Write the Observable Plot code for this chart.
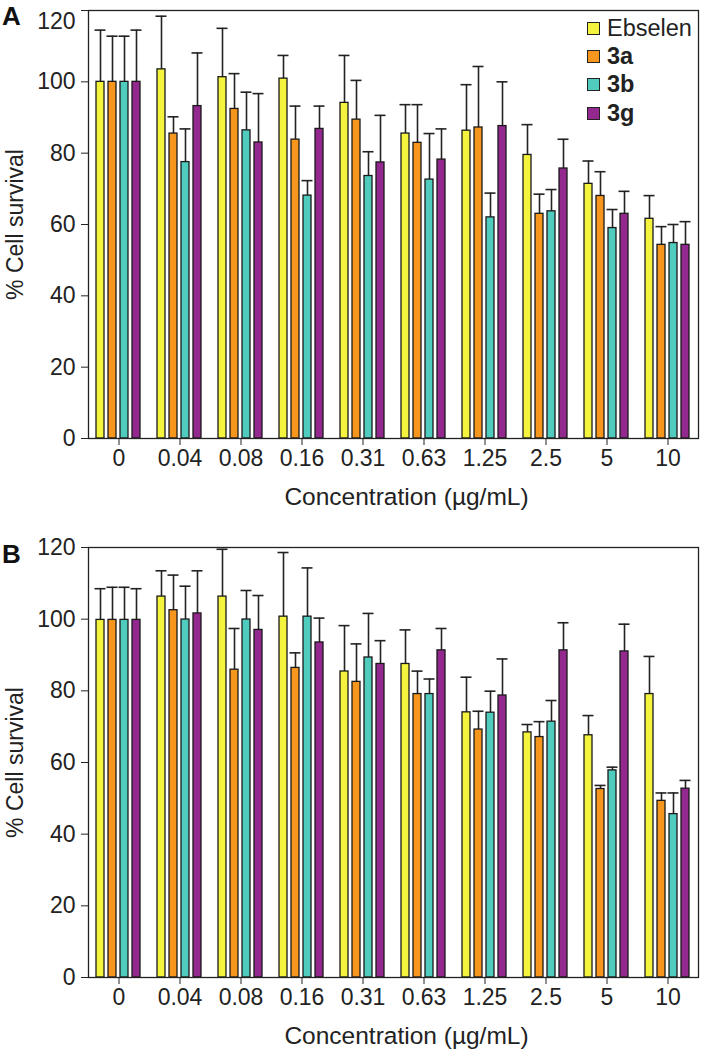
<!DOCTYPE html>
<html>
<head>
<meta charset="utf-8">
<script src="https://cdn.jsdelivr.net/npm/d3@7"></script>
<script src="https://cdn.jsdelivr.net/npm/@observablehq/plot@0.6"></script>
<style>
  body { margin: 0; background: #fff; font-family: "Liberation Sans", Arial, sans-serif; }
  .panel { position: relative; width: 705px; }
  .letter { position: absolute; font-weight: bold; font-size: 26px; color: #111; }
  .legend { position: absolute; left: 587px; top: 14px; font-size: 23.5px; color: #222; }
  .legend .row { display: flex; align-items: center; height: 28.3px; }
  .legend .sw { width: 11px; height: 11px; border: 1.3px solid #222; margin-right: 7px; }
  .legend .bold { font-weight: bold; }
</style>
</head>
<body>
<div id="panelA" class="panel"></div>
<div id="panelB" class="panel"></div>
<script>
// ---- Data ----
const concentrations = ["0", "0.04", "0.08", "0.16", "0.31", "0.63", "1.25", "2.5", "5", "10"];
const compounds = ["Ebselen", "3a", "3b", "3g"];
const colors = ["#f4f43e", "#f7961c", "#50ccbf", "#93298f"];
const yTicks = [0, 20, 40, 60, 80, 100, 120];
const xTitle = "Concentration (µg/mL)";
const yTitle = "% Cell survival";

// Panel A: mean % cell survival and top of error bar
const A_Ebselen = [100, 103.5, 101.3, 100.9, 94.1, 85.5, 86.3, 79.5, 71.4, 61.6];
const A_3a      = [100, 85.5, 92.4, 83.8, 89.4, 82.9, 87.2, 63.0, 68.0, 54.3];
const A_3b      = [100, 77.5, 86.4, 68.1, 73.6, 72.6, 62.0, 63.7, 59.0, 54.8];
const A_3g      = [100, 93.2, 83.0, 86.8, 77.4, 78.2, 87.6, 75.7, 63.0, 54.3];
const A_Ebselen_err = [114.5, 118.4, 115.0, 107.4, 107.4, 93.6, 99.2, 88.0, 77.8, 68.1];
const A_3a_err      = [112.8, 90.2, 102.3, 93.2, 100.4, 93.6, 104.3, 68.5, 74.8, 59.4];
const A_3b_err      = [112.8, 86.8, 97.1, 72.3, 80.4, 85.5, 68.8, 69.8, 64.2, 60.0];
const A_3g_err      = [114.5, 108.1, 96.7, 93.2, 90.6, 86.8, 100.0, 83.9, 69.3, 60.8];

// Panel B
const B_Ebselen = [99.8, 106.3, 106.3, 100.7, 85.4, 87.5, 74.0, 68.4, 67.6, 79.1];
const B_3a      = [99.8, 102.5, 85.9, 86.4, 82.5, 79.1, 69.2, 67.1, 52.6, 49.3];
const B_3b      = [99.8, 99.9, 99.9, 100.7, 89.3, 79.1, 73.9, 71.4, 57.8, 45.6];
const B_3g      = [99.8, 101.6, 97.0, 93.5, 87.5, 91.3, 78.7, 91.3, 91.0, 52.7];
const B_Ebselen_err = [108.5, 113.5, 119.5, 118.6, 98.2, 97.0, 83.8, 70.6, 73.1, 89.6];
const B_3a_err      = [108.9, 112.3, 97.4, 90.6, 93.1, 85.5, 74.3, 71.4, 53.6, 51.5];
const B_3b_err      = [108.9, 109.2, 108.0, 114.3, 101.6, 83.3, 79.9, 77.3, 58.7, 51.5];
const B_3g_err      = [108.5, 113.5, 106.6, 100.3, 94.0, 97.4, 88.9, 99.0, 98.6, 55.0];

function buildRows(means, errs) {
  const rows = [];
  concentrations.forEach((c, i) => {
    compounds.forEach((k, j) => {
      rows.push({conc: c, compound: k, value: means[j][i], upper: errs[j][i]});
    });
  });
  return rows;
}
const rowsA = buildRows([A_Ebselen, A_3a, A_3b, A_3g], [A_Ebselen_err, A_3a_err, A_3b_err, A_3g_err]);
const rowsB = buildRows([B_Ebselen, B_3a, B_3b, B_3g], [B_Ebselen_err, B_3a_err, B_3b_err, B_3g_err]);

function panel(rows, opts) {
  return Plot.plot({
    width: 705,
    height: opts.height,
    marginLeft: 83,
    marginRight: 3,
    marginTop: opts.marginTop,
    marginBottom: opts.marginBottom,
    style: {fontFamily: "Liberation Sans, Arial, sans-serif", fontSize: "23px", color: "#222", background: "white", overflow: "visible"},
    fx: {
      domain: concentrations,
      paddingInner: 0,
      paddingOuter: 0.05,
      label: null,
      tickSize: 7,
      tickPadding: 4
    },
    x: {domain: compounds, axis: null, paddingInner: 0.3, paddingOuter: 0.66},
    y: {
      domain: [0, 120],
      ticks: yTicks,
      tickSize: 7,
      tickPadding: 6,
      label: yTitle,
      labelAnchor: "center",
      labelArrow: "none",
      labelOffset: 82
    },
    color: {domain: compounds, range: colors},
    marks: [
      Plot.ruleX(rows, {fx: "conc", x: "compound", y1: "value", y2: "upper", stroke: "#222", strokeWidth: 1.6}),
      Plot.tickY(rows, {fx: "conc", x: "compound", y: "upper", stroke: "#222", strokeWidth: 1.6, insetLeft: -1.5, insetRight: -1.5}),
      Plot.barY(rows, {fx: "conc", x: "compound", y: "value", fill: "compound", stroke: "#1a1a1a", strokeWidth: 1.3}),
      Plot.frame({facet: "super", stroke: "#222", strokeWidth: 1.3}),
      Plot.text([xTitle], {facet: "super", frameAnchor: "bottom", text: d => d, dx: 13, dy: 59, lineAnchor: "middle", fontSize: 24.5, fill: "#222"})
    ]
  });
}

const elA = document.getElementById("panelA");
const svgA = panel(rowsA, {height: 525, marginTop: 10, marginBottom: 87});
elA.appendChild(svgA);
// nudge the topmost y tick label so it is not clipped by the page edge
d3.select(svgA).selectAll('[aria-label="y-axis tick label"] text')
  .filter(function() { return this.textContent === "120"; })
  .attr("dy", "0.48em");
const letterA = document.createElement("div");
letterA.className = "letter"; letterA.textContent = "A";
letterA.style.left = "2px"; letterA.style.top = "1px";
elA.appendChild(letterA);

const legend = document.createElement("div");
legend.className = "legend";
compounds.forEach((k, j) => {
  const row = document.createElement("div");
  row.className = "row";
  const sw = document.createElement("div");
  sw.className = "sw"; sw.style.background = colors[j];
  const t = document.createElement("span");
  t.textContent = k;
  if (j > 0) t.className = "bold";
  row.appendChild(sw); row.appendChild(t);
  legend.appendChild(row);
});
elA.appendChild(legend);

const elB = document.getElementById("panelB");
elB.appendChild(panel(rowsB, {height: 525, marginTop: 22, marginBottom: 73}));
const letterB = document.createElement("div");
letterB.className = "letter"; letterB.textContent = "B";
letterB.style.left = "2px"; letterB.style.top = "14px";
elB.appendChild(letterB);
</script>
</body>
</html>
